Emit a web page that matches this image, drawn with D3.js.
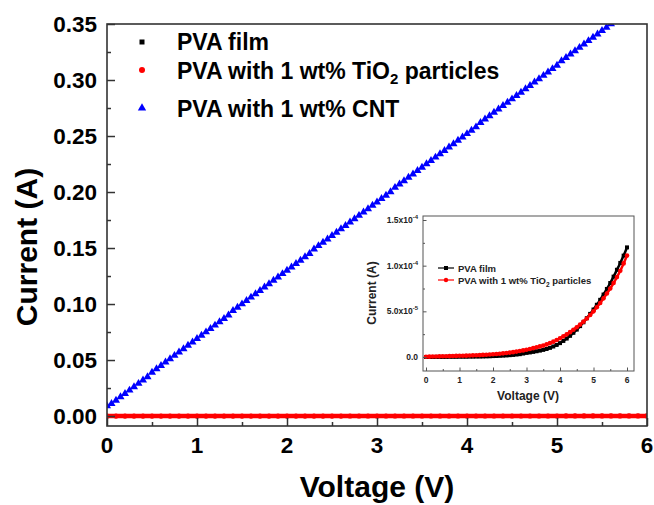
<!DOCTYPE html>
<html>
<head>
<meta charset="utf-8">
<script src="https://cdn.jsdelivr.net/npm/d3@7"></script>
<style>
  body { margin: 0; background: #fff; }
  text { font-family: Arial, "Liberation Sans", sans-serif; font-weight: bold; }
</style>
</head>
<body>
<div id="frame"></div>
<script>
// sweep grids (V)
const cntStep = 0.05;   // CNT sample, every 0.05 V
const filmStep = 0.1;   // film samples, every 0.1 V

// PVA with 1 wt% CNT, current in A, 0 .. 5.6 V
const cntCurrent = [
  0.009, 0.011, 0.014, 0.017, 0.020, 0.023, 0.026, 0.029, 0.032, 0.035,
  0.039, 0.042, 0.045, 0.048, 0.051, 0.054, 0.057, 0.060, 0.063, 0.066,
  0.069, 0.072, 0.075, 0.078, 0.081, 0.084, 0.087, 0.090, 0.094, 0.097,
  0.100, 0.103, 0.106, 0.109, 0.112, 0.115, 0.118, 0.121, 0.124, 0.127,
  0.130, 0.133, 0.136, 0.139, 0.142, 0.145, 0.149, 0.152, 0.155, 0.158,
  0.161, 0.164, 0.167, 0.170, 0.173, 0.176, 0.179, 0.182, 0.185, 0.188,
  0.191, 0.194, 0.197, 0.200, 0.204, 0.207, 0.210, 0.213, 0.216, 0.219,
  0.222, 0.225, 0.228, 0.231, 0.234, 0.237, 0.240, 0.243, 0.246, 0.249,
  0.252, 0.255, 0.258, 0.262, 0.265, 0.268, 0.271, 0.274, 0.277, 0.280,
  0.283, 0.286, 0.289, 0.292, 0.295, 0.298, 0.301, 0.304, 0.307, 0.310,
  0.313, 0.317, 0.320, 0.323, 0.326, 0.329, 0.332, 0.335, 0.338, 0.341,
  0.344, 0.347, 0.350
];

// PVA film, current in units of 1e-5 A, 0 .. 6 V
const pvaCurrent = [
  0.00, 0.00, 0.00, 0.01, 0.01, 0.01, 0.01, 0.02, 0.02, 0.02,
  0.03, 0.03, 0.03, 0.04, 0.04, 0.05, 0.05, 0.06, 0.07, 0.08,
  0.10, 0.11, 0.13, 0.15, 0.17, 0.20, 0.23, 0.27, 0.31, 0.38,
  0.45, 0.50, 0.56, 0.63, 0.70, 0.78, 0.88, 1.00, 1.15, 1.32,
  1.52, 1.76, 2.02, 2.32, 2.65, 3.00, 3.38, 3.80, 4.25, 4.72,
  5.20, 5.72, 6.26, 6.84, 7.45, 8.10, 8.80, 9.55, 10.3, 11.1,
  12.0
];

// PVA with 1 wt% TiO2 particles, current in units of 1e-5 A, 0 .. 6 V
const tioCurrent = [
  0.03, 0.04, 0.05, 0.06, 0.07, 0.08, 0.09, 0.10, 0.11, 0.12,
  0.13, 0.14, 0.15, 0.16, 0.18, 0.19, 0.21, 0.23, 0.25, 0.27,
  0.30, 0.33, 0.36, 0.40, 0.44, 0.48, 0.53, 0.59, 0.65, 0.72,
  0.80, 0.88, 0.97, 1.07, 1.16, 1.25, 1.38, 1.52, 1.68, 1.86,
  2.05, 2.26, 2.48, 2.72, 2.98, 3.25, 3.55, 3.87, 4.22, 4.60,
  5.00, 5.45, 5.92, 6.42, 6.95, 7.50, 8.10, 8.75, 9.45, 10.25,
  11.1
];

const xTicks = [0, 1, 2, 3, 4, 5, 6];
const yTicks = [0, 0.05, 0.10, 0.15, 0.20, 0.25, 0.30, 0.35];
const insetXTicks = [0, 1, 2, 3, 4, 5, 6];
const insetYTicks = [
  { v: 0, m: "0.0", e: "" },
  { v: 5e-5, m: "5.0x10", e: "-5" },
  { v: 1e-4, m: "1.0x10", e: "-4" },
  { v: 1.5e-4, m: "1.5x10", e: "-4" }
];

const cnt = cntCurrent.map((c, i) => ({ v: i * cntStep, c }));
const pva = pvaCurrent.map((c, i) => ({ v: i * filmStep, c: c * 1e-5 }));
const tio = tioCurrent.map((c, i) => ({ v: i * filmStep, c: c * 1e-5 }));

const width = 654, height = 505;
const svg = d3.select("#frame").append("svg")
  .attr("width", width).attr("height", height);

// ---------- main plot ----------
const x = d3.scaleLinear().domain([0, 6]).range([107, 647]);
const y = d3.scaleLinear().domain([-0.0089, 0.35]).range([426, 24]);

svg.append("clipPath").attr("id", "mainclip")
  .append("rect").attr("x", 107).attr("y", 24).attr("width", 540).attr("height", 402);

const plot = svg.append("g").attr("clip-path", "url(#mainclip)");

const line = d3.line().x(d => x(d.v)).y(d => y(d.c));

plot.append("path").datum(pva).attr("d", line)
  .attr("fill", "none").attr("stroke", "#000").attr("stroke-width", 4);
plot.append("g").selectAll("rect").data(pva).join("rect")
  .attr("x", d => x(d.v) - 2).attr("y", d => y(d.c) - 2)
  .attr("width", 4).attr("height", 4).attr("fill", "#000");

plot.append("path").datum(tio).attr("d", line)
  .attr("fill", "none").attr("stroke", "#ff0000").attr("stroke-width", 4.5);
plot.append("g").selectAll("circle").data(tio).join("circle")
  .attr("cx", d => x(d.v)).attr("cy", d => y(d.c)).attr("r", 2.6)
  .attr("fill", "#ff0000");

const tri = d3.symbol().type(d3.symbolTriangle).size(28);
plot.append("g").selectAll("path").data(cnt).join("path")
  .attr("d", tri)
  .attr("transform", d => `translate(${x(d.v)},${y(d.c)})`)
  .attr("fill", "#0000ff");

// axes (ticks inward)
const axisColor = "#333";
const xAxisG = svg.append("g").attr("transform", "translate(0,426)");
xAxisG.call(d3.axisBottom(x).tickValues(d3.range(0.5, 6, 1)).tickSize(-4).tickFormat(""));
xAxisG.append("g").call(d3.axisBottom(x).tickValues(xTicks).tickSize(-8).tickFormat(""));
xAxisG.selectAll(".domain").remove();
xAxisG.selectAll("line").attr("stroke", axisColor).attr("stroke-width", 1.5);

const yAxisG = svg.append("g").attr("transform", "translate(107,0)");
yAxisG.call(d3.axisLeft(y).tickValues(yTicks.map(t => t + 0.025).filter(t => t < 0.35)).tickSize(-4).tickFormat(""));
yAxisG.append("g").call(d3.axisLeft(y).tickValues(yTicks).tickSize(-8).tickFormat(""));
yAxisG.selectAll(".domain").remove();
yAxisG.selectAll("line").attr("stroke", axisColor).attr("stroke-width", 1.5);

svg.append("rect").attr("x", 107).attr("y", 24).attr("width", 540).attr("height", 402)
  .attr("fill", "none").attr("stroke", axisColor).attr("stroke-width", 1.6);

svg.append("g").selectAll("text").data(xTicks).join("text")
  .attr("x", d => x(d)).attr("y", 453).attr("text-anchor", "middle")
  .attr("font-size", 22.5).text(d => d);

svg.append("g").selectAll("text").data(yTicks).join("text")
  .attr("x", 97).attr("y", d => y(d) + 8).attr("text-anchor", "end")
  .attr("font-size", 22.5).text(d => d3.format(".2f")(d));

svg.append("text").attr("x", 377).attr("y", 497).attr("text-anchor", "middle")
  .attr("font-size", 30).text("Voltage (V)");
svg.append("text").attr("transform", "translate(37,247) rotate(-90)")
  .attr("text-anchor", "middle").attr("font-size", 30).text("Current (A)");

// legend
const legend = svg.append("g");
legend.append("rect").attr("x", 139.5).attr("y", 39.5).attr("width", 5).attr("height", 5).attr("fill", "#000");
legend.append("circle").attr("cx", 142).attr("cy", 70).attr("r", 3).attr("fill", "#ff0000");
legend.append("path").attr("d", d3.symbol().type(d3.symbolTriangle).size(30))
  .attr("transform", "translate(142,108)").attr("fill", "#0000ff");
legend.append("text").attr("x", 177).attr("y", 50).attr("font-size", 23).text("PVA film");
const l2 = legend.append("text").attr("x", 177).attr("y", 79).attr("font-size", 23);
l2.append("tspan").text("PVA with 1 wt% TiO");
l2.append("tspan").attr("font-size", 15).attr("dy", 5).text("2");
l2.append("tspan").attr("dy", -5).text(" particles");
legend.append("text").attr("x", 177).attr("y", 117).attr("font-size", 23).text("PVA with 1 wt% CNT");

// ---------- inset ----------
const ix = d3.scaleLinear().domain([0, 6]).range([426, 627]);
const iy = d3.scaleLinear().domain([0, 1.5e-4]).range([357, 220]);
const inset = svg.append("g");
inset.append("rect").attr("x", 423).attr("y", 216).attr("width", 211).attr("height", 155)
  .attr("fill", "#fff");

const iline = d3.line().curve(d3.curveMonotoneX).x(d => ix(d.v)).y(d => iy(d.c));
inset.append("path").datum(pva).attr("d", iline)
  .attr("fill", "none").attr("stroke", "#000").attr("stroke-width", 2.5);
inset.append("g").selectAll("rect").data(pva).join("rect")
  .attr("x", d => ix(d.v) - 2).attr("y", d => iy(d.c) - 2)
  .attr("width", 4).attr("height", 4).attr("fill", "#000");
inset.append("path").datum(tio).attr("d", iline)
  .attr("fill", "none").attr("stroke", "#ff0000").attr("stroke-width", 2.5);
inset.append("g").selectAll("circle").data(tio).join("circle")
  .attr("cx", d => ix(d.v)).attr("cy", d => iy(d.c)).attr("r", 2.3)
  .attr("fill", "#ff0000");

const insetColor = "#555";
const ixAxis = inset.append("g").attr("transform", "translate(0,371)");
ixAxis.call(d3.axisBottom(ix).tickValues(d3.range(0.5, 6, 1)).tickSize(-2).tickFormat(""));
ixAxis.append("g").call(d3.axisBottom(ix).tickValues(insetXTicks).tickSize(-3.5).tickFormat(""));
ixAxis.selectAll(".domain").remove();
ixAxis.selectAll("line").attr("stroke", insetColor);

const iyAxis = inset.append("g").attr("transform", "translate(423,0)");
iyAxis.call(d3.axisLeft(iy).tickValues([2.5e-5, 7.5e-5, 1.25e-4]).tickSize(-2).tickFormat(""));
iyAxis.append("g").call(d3.axisLeft(iy).tickValues(insetYTicks.map(d => d.v)).tickSize(-3.5).tickFormat(""));
iyAxis.selectAll(".domain").remove();
iyAxis.selectAll("line").attr("stroke", insetColor);

inset.append("rect").attr("x", 423).attr("y", 216).attr("width", 211).attr("height", 155)
  .attr("fill", "none").attr("stroke", insetColor).attr("stroke-width", 1);

inset.append("g").selectAll("text").data(insetXTicks).join("text")
  .attr("x", d => ix(d)).attr("y", 383).attr("text-anchor", "middle")
  .attr("font-size", 8.5).attr("fill", "#222").text(d => d);

const iyl = inset.append("g").selectAll("text").data(insetYTicks).join("text")
  .attr("x", 418).attr("y", d => iy(d.v) + 3).attr("text-anchor", "end")
  .attr("font-size", 8.5).attr("fill", "#222");
iyl.append("tspan").text(d => d.m);
iyl.append("tspan").attr("font-size", 6).attr("dy", -4).text(d => d.e);

inset.append("text").attr("x", 528).attr("y", 400).attr("text-anchor", "middle")
  .attr("font-size", 12).attr("fill", "#222").text("Voltage (V)");
inset.append("text").attr("transform", "translate(376,293) rotate(-90)")
  .attr("text-anchor", "middle").attr("font-size", 12).attr("fill", "#222").text("Current (A)");

// inset legend
const ileg = inset.append("g");
ileg.append("line").attr("x1", 438).attr("x2", 454).attr("y1", 268).attr("y2", 268)
  .attr("stroke", "#000").attr("stroke-width", 1.2);
ileg.append("rect").attr("x", 444).attr("y", 266).attr("width", 4).attr("height", 4).attr("fill", "#000");
ileg.append("line").attr("x1", 438).attr("x2", 454).attr("y1", 280).attr("y2", 280)
  .attr("stroke", "#ff0000").attr("stroke-width", 1.2);
ileg.append("circle").attr("cx", 446).attr("cy", 280).attr("r", 2.2).attr("fill", "#ff0000");
ileg.append("text").attr("x", 458).attr("y", 271.5).attr("font-size", 9.5).attr("fill", "#222").text("PVA film");
const il2 = ileg.append("text").attr("x", 458).attr("y", 283.5).attr("font-size", 9.5).attr("fill", "#222");
il2.append("tspan").text("PVA with 1 wt% TiO");
il2.append("tspan").attr("font-size", 6.5).attr("dy", 3).text("2");
il2.append("tspan").attr("dy", -3).text(" particles");
</script>
</body>
</html>
